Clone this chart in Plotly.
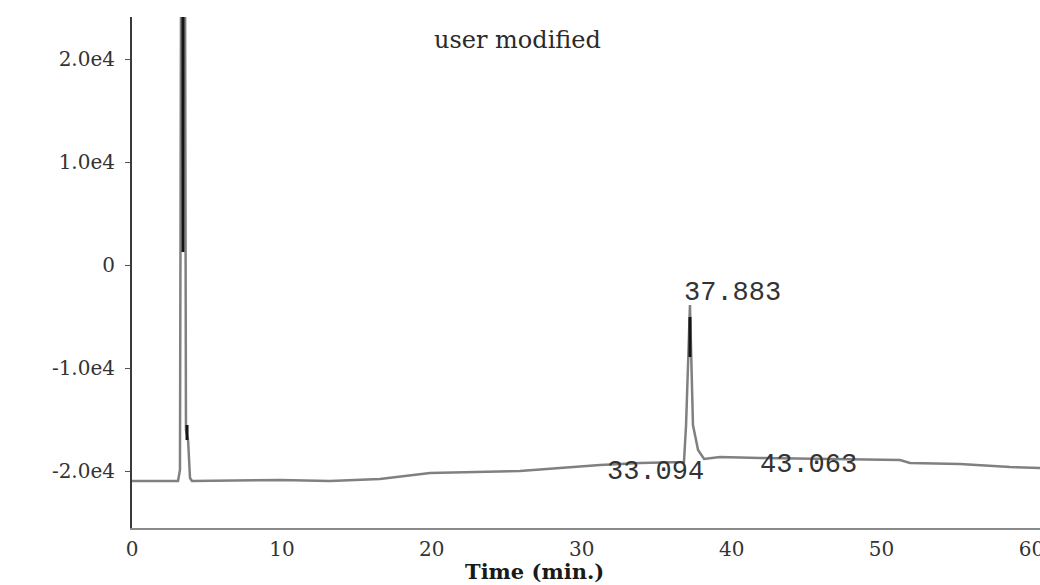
import plotly.graph_objects as go

# Chromatogram (gray trace)
time_min = [0.0, 2.87, 3.07, 3.20, 3.27, 3.54, 3.60, 3.74, 3.87, 4.0,
            9.87, 13.21, 15.21, 16.54, 19.88, 25.88, 28.55, 31.22, 33.89, 36.56,
            36.82, 36.96, 37.22, 37.42, 37.76, 38.16,
            39.23, 41.89, 51.23, 51.9, 55.24, 58.57, 60.57]
signal = [-20970, -20970, -20970, -19900, 26000, 26000, -16020, -16990, -20680, -20970,
          -20870, -20970, -20870, -20780, -20190, -20000, -19710, -19420, -19220, -19130,
          -19130, -15530, -3880, -15530, -17960, -18830,
          -18640, -18740, -18930, -19220, -19320, -19610, -19710]

# Black overlay segments (second trace visible on the peak tops)
black_time = [3.40, 3.40, None, 3.67, 3.67, None, 37.22, 37.22]
black_signal = [26000, 1260, None, -15530, -16990, None, -5050, -8930]

# Peak labels
peak_labels = ["37.883", "33.094", "43.063"]
label_x = [40.09, 34.89, 45.16]
label_y = [-2720, -20100, -19420]

y_tickvals = [20000, 10000, 0, -10000, -20000]
y_ticktext = ["2.0e4", "1.0e4", "0", "-1.0e4", "-2.0e4"]
x_tickvals = [0, 10, 20, 30, 40, 50, 60]

fig = go.Figure()
fig.add_trace(go.Scatter(x=time_min, y=signal, mode="lines",
                         line=dict(color="#808080", width=2.5), showlegend=False))
fig.add_trace(go.Scatter(x=black_time, y=black_signal, mode="lines",
                         line=dict(color="#151515", width=3), showlegend=False,
                         connectgaps=False))

for t, xv, yv in zip(peak_labels, label_x, label_y):
    fig.add_annotation(x=xv, y=yv, text=t, showarrow=False,
                       font=dict(family="Liberation Mono", size=27, color="#333333"))

fig.add_annotation(x=517, y=40, xref="paper", yref="paper", showarrow=False,
                   xanchor="center", yanchor="middle",
                   text="user modified",
                   font=dict(family="DejaVu Serif", size=24, color="#2a2a2a"))
fig.add_annotation(x=534, y=571, xref="paper", yref="paper", showarrow=False,
                   xanchor="center", yanchor="middle",
                   text="<b>Time (min.)</b>",
                   font=dict(family="DejaVu Serif", size=21, color="#1a1a1a"))

# convert pixel-positioned paper annotations to paper fractions
W, H, L, R, T, B = 1040, 585, 132, 0, 17, 57
for ann in fig.layout.annotations:
    if ann.xref == "paper":
        px, py = ann.x, ann.y
        ann.x = (px - L) / (W - L - R)
        ann.y = (H - B - py) / (H - T - B)

fig.update_layout(
    width=W, height=H,
    margin=dict(l=L, r=R, t=T, b=B),
    paper_bgcolor="white", plot_bgcolor="white",
    xaxis=dict(range=[0, 60.57], tickvals=x_tickvals, showgrid=False, zeroline=False,
               showline=True, linecolor="#8a8a8a", linewidth=2, ticks="",
               automargin=False, ticklabeloverflow="allow", ticklabelstandoff=2,
               tickfont=dict(family="DejaVu Serif", size=20, color="#333333")),
    yaxis=dict(range=[-25530, 24080], tickvals=y_tickvals, ticktext=y_ticktext,
               showgrid=False, zeroline=False, showline=True, linecolor="#3a3a3a",
               linewidth=2, ticks="outside", ticklen=5, tickcolor="#555555",
               automargin=False, ticklabelstandoff=6,
               tickfont=dict(family="DejaVu Serif", size=20, color="#333333")),
)

fig.write_html("out.html", config={"displayModeBar": False},
               post_script="document.body.style.margin='0';document.body.style.padding='0';")
